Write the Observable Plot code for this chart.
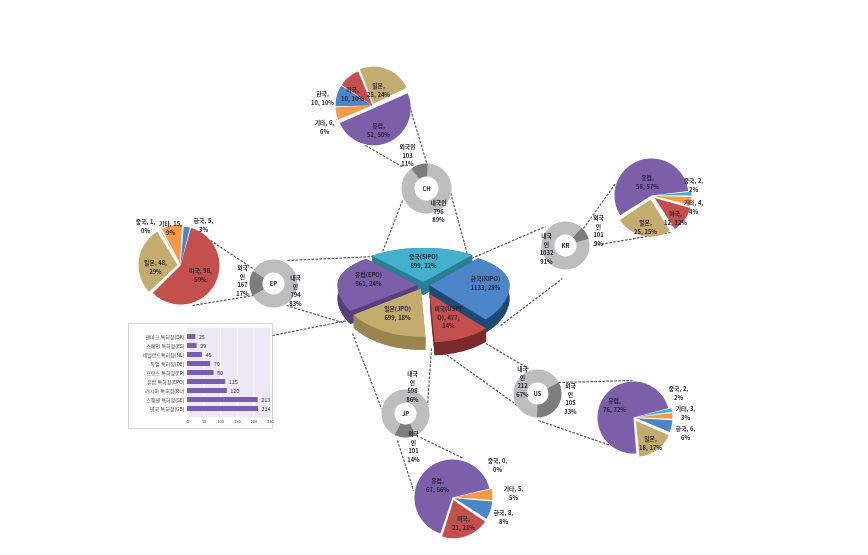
<!doctype html>
<html lang="ko"><head><meta charset="utf-8">
<script src="https://cdn.jsdelivr.net/npm/d3@7"></script>
<script src="https://cdn.jsdelivr.net/npm/@observablehq/plot@0.6"></script>
<style>
html,body{margin:0;padding:0;background:#fff}
#stage{position:relative;width:868px;height:555px;overflow:hidden;filter:blur(.5px);font-family:"Noto Sans CJK KR","Noto Sans",sans-serif}
#stage svg{position:absolute;left:0;top:0;overflow:visible;background:transparent}
#panel{position:absolute;left:129px;top:324px;width:143px;height:104px;box-shadow:0 0 0 1px #d4d4d4;background:#fff;filter:blur(.3px)}
</style></head><body><div id="stage"><div id="panel"></div></div>
<script>
// ---- data ----
const centralOffices = ["중국","한국","미국","일본","유럽"];
const centralValues  = [899,1133,477,699,961];
const chRegions=["일본","유럽","기타","한국","미국"], chValues=[25,52,6,10,10];
const krRegions=["유럽","중국","기타","미국","일본"], krValues=[58,2,4,12,25];
const epRegions=["한국","미국","일본","중국","기타"], epValues=[5,98,48,1,15];
const usRegions=["유럽","중국","기타","한국","일본"], usValues=[76,2,3,6,18];
const jpRegions=["유럽","중국","기타","한국","미국"], jpValues=[67,0,5,8,21];
const ringDomestic={CH:796,KR:1032,EP:794,US:212,JP:598};
const ringForeign ={CH:103,KR:101,EP:167,US:105,JP:101};
const barOffices=["덴마크 특허청(DK)","스페인 특허청(ES)","네덜란드특허청(NL)","독일 특허청(DE)","프랑스 특허청(FR)","유럽 특허청(EPO)","러시아 특허청(RU)","스웨덴 특허청(SE)","영국 특허청(GB)"];
const barValues=[25,29,45,70,80,115,120,213,214];
const regionNames=["유럽","일본","미국","한국","중국","기타","유럽측면","일본측면","미국측면","한국측면","중국측면","내국인","외국인"];
const regionColors=["#7c5fa8","#c4ab6e","#c4504e","#4a86c8","#45b0cc","#f79a45","#54407a","#9a8550","#7a2a2a","#1f4a78","#2a7f96","#bdbdbd","#7d7d7d"];

// ---- layout ----
const rad=d=>(d-90)*Math.PI/180;
function sector(key,region,cx,cy,rx,ry,a0,a1,off=0,inner=0,ryUp=ry){
  const m=(a0+a1)/2, ox=cx+off*Math.cos(rad(m)), oy=cy+off*(ry/rx)*Math.sin(rad(m)), pts=[];
  const n=Math.max(2,Math.ceil((a1-a0)/3));
  const py=a=>{const s=Math.sin(rad(a));return oy+(s<0?ryUp:ry)*s;};
  for(let i=0;i<=n;i++){const a=a0+(a1-a0)*i/n;pts.push({key,region,x:ox+rx*Math.cos(rad(a)),y:py(a)});}
  if(inner>0){for(let i=n;i>=0;i--){const a=a0+(a1-a0)*i/n;pts.push({key,region,x:ox+inner*Math.cos(rad(a)),y:oy+inner*Math.sin(rad(a))});}}
  else pts.push({key,region,x:ox,y:oy});
  pts.push({...pts[0]});
  return pts;
}
function pie(id,regions,values,cx,cy,r,start,gap,offs={}){
  const total=d3.sum(values);let a=start,out=[];
  regions.forEach((g,i)=>{const s=values[i]/total*360;
    if(s>0) out=out.concat(sector(id+i,g,cx,cy,r,r,a+gap/2,a+s-gap/2,offs[g]||0));
    a+=s;});
  return out;
}
function ring(id,cx,cy,r,ri,fStart){
  const t=ringDomestic[id]+ringForeign[id], s=ringForeign[id]/t*360;
  return [...sector(id+"d","내국인",cx,cy,r,r,fStart+s,fStart+360,0,ri),
          ...sector(id+"f","외국인",cx,cy,r,r,fStart,fStart+s,0,ri)];
}
// central 3-D pie
const cTotal=d3.sum(centralValues);
let ang=-40;const cs={};
centralOffices.forEach((k,i)=>{const s=centralValues[i]/cTotal*360;cs[k]=[ang,ang+s];ang+=s;});
const C={x:423,y:285,rx:80,ry:48,ryUp:34,depth:13};
const explode={"중국":6,"한국":6,"미국":16,"일본":6,"유럽":6};
const topFace=k=>sector(k,k,C.x,C.y,C.rx,C.ry,cs[k][0],cs[k][1],explode[k],0,C.ryUp);
const sideFaces=k=>{const [a0,a1]=cs[k];
  const t=sector(k+"s0",k+"측면",C.x,C.y+C.depth,C.rx,C.ry,a0,a1,explode[k],0,C.ryUp);
  const A=topFace(k);
  const upper=A.slice(0,-2);
  const bot=t.slice(0,-2).reverse();
  const wall=[...upper,...bot,upper[0]].map(p=>({...p,key:k+"s1",region:k+"측면"}));
  const apex=A[A.length-2],e0=A[0],e1=A[A.length-3];
  const f=(p,q,s)=>[p,q,{x:q.x,y:q.y+C.depth},{x:p.x,y:p.y+C.depth},p].map(v=>({x:v.x,y:v.y,key:k+s,region:k+"측면"}));
  return [...t,...wall,...f(apex,e0,"s2"),...f(apex,e1,"s3")];
};
const shapes=[
  ...["중국","유럽","한국","일본","미국"].flatMap(sideFaces),
  ...centralOffices.flatMap(topFace),
  ...pie("CHp",chRegions,chValues,372,105,37,-22,1.5,{"유럽":3,"일본":2}),
  ...pie("KRp",krRegions,krValues,651,195,37,237,1.5,{"일본":4,"미국":4,"중국":3,"기타":3}),
  ...pie("EPp",epRegions,epValues,180,265,39,4,1.5,{"일본":3,"기타":2}),
  ...pie("USp",usRegions,usValues,633,417,36,175,1,{"일본":4,"한국":3,"기타":3,"중국":3}),
  ...pie("JPp",jpRegions,jpValues,452,497,38,198,1,{"미국":3,"한국":2,"기타":2}),
  ...ring("CH",426,188,25,12,322),
  ...ring("KR",565,245,24,11,42),
  ...ring("EP",273,283,24,11,239),
  ...ring("US",537,393,24,11,62),
  ...ring("JP",405,413,24,11,155)
];
const linkSegments=[[365,145,403,167],[408,102,426,162],[402,200,381,254],[448,185,467,254],
 [471,258,545,226],[500,325,562,278],[583,228,615,183],[593,245,670,232],
 [287,260,375,256],[286,305,342,322],[210,240,263,275],[192,305,253,295],[272,335,347,320],
 [352,333,381,408],[431,348,427,405],[397,440,413,490],[420,437,463,458],
 [440,350,517,405],[475,337,528,368],[558,382,632,380],[538,420,610,445]]
 .map(([x1,y1,x2,y2])=>({x1,y1,x2,y2}));
const textLabels=[
 [423,253,"중국(SIPO)\n899, 22%"],[485,275,"한국(KIPO)\n1133, 28%"],[448,305,"미국(USPT\nO), 477,\n14%"],[397,305,"일본(JPO)\n699, 18%"],[368,271,"유럽(EPO)\n961, 24%"],
 [322,90,"한국,\n10, 10%"],[324,119,"기타, 6,\n6%"],[352,86,"미국,\n10, 10%"],[378,82,"일본,\n25, 24%"],[378,122,"유럽,\n52, 50%"],
 [407,143,"외국인\n103\n11%"],[438,199,"내국인\n796\n89%"],
 [647,174,"유럽,\n58, 57%"],[693,177,"중국, 2,\n2%"],[693,199,"기타, 4,\n4%"],[675,210,"미국,\n12, 12%"],[645,219,"일본,\n25, 25%"],
 [598,214,"외국\n인\n101\n9%"],[546,232,"내국\n인\n1032\n91%"],
 [145,218,"중국, 1,\n0%"],[170,220,"기타, 15,\n9%"],[203,217,"한국, 5,\n3%"],[155,259,"일본, 48,\n29%"],[200,267,"미국, 98,\n59%"],
 [242,264,"외국\n인\n167\n17%"],[295,274,"내국\n인\n794\n83%"],
 [614,397,"유럽,\n76, 72%"],[678,385,"중국, 2,\n2%"],[685,405,"기타, 3,\n3%"],[685,425,"한국, 6,\n6%"],[650,435,"일본,\n18, 17%"],
 [522,365,"내국\n인\n212\n67%"],[570,382,"외국\n인\n105\n33%"],
 [437,477,"유럽,\n67, 66%"],[497,457,"중국, 0,\n0%"],[513,485,"기타, 5,\n5%"],[503,509,"한국, 8,\n8%"],[463,515,"미국,\n21, 21%"],
 [412,370,"내국\n인\n598\n86%"],[413,430,"외국\n인\n101\n14%"],
 [426,185,"CH"],[565,242,"KR"],[273,280,"EP"],[537,390,"US"],[405,410,"JP"]
].map(([x,y,t])=>({x,y,t}));

const fontStack='"Noto Sans CJK KR","Noto Sans",sans-serif';
const mainPlot=Plot.plot({width:868,height:555,margin:0,
  x:{domain:[0,868],range:[0,868],axis:null},
  y:{domain:[0,555],range:[0,555],axis:null},
  color:{domain:regionNames,range:regionColors},
  style:{fontFamily:fontStack,background:"transparent"},
  marks:[
    Plot.link(linkSegments,{x1:"x1",y1:"y1",x2:"x2",y2:"y2",stroke:"#555",strokeWidth:1.2,strokeDasharray:"2.5,1.5"}),
    Plot.line(shapes,{x:"x",y:"y",z:"key",fill:"region",stroke:"none",curve:"linear"}),
    Plot.text(textLabels,{x:"x",y:"y",text:"t",lineAnchor:"top",fontSize:5.8,lineHeight:1.45,fill:"#23232f",fontWeight:600})
  ]});
document.getElementById("stage").appendChild(mainPlot);

const barRows=barOffices.map((o,i)=>({o,v:barValues[i]}));
const barPlot=Plot.plot({width:143,height:104,marginLeft:58,marginRight:2,marginTop:3,marginBottom:11,
  x:{domain:[0,250],axis:null},
  y:{domain:barOffices,padding:.45,axis:null},
  style:{fontFamily:fontStack,background:"transparent"},
  marks:[
    Plot.frame({fill:"#eee8f5",stroke:"none"}),
    Plot.ruleX([50,100,150,200,250],{stroke:"#fff",strokeWidth:.8}),
    Plot.barX(barRows,{x:"v",y:"o",fill:"#7a5fb0"}),
    Plot.text(barRows,{x:"v",y:"o",text:d=>String(d.v),dx:3,textAnchor:"start",fontSize:5.4,fill:"#333"}),
    Plot.axisY({tickSize:0,tickPadding:3,fontSize:5,label:null,color:"#333"}),
    Plot.axisX({ticks:[0,50,100,150,200,250],tickSize:0,tickPadding:3,fontSize:4,label:null,color:"#444"})
  ]});
document.getElementById("panel").appendChild(barPlot);
</script></body></html>
